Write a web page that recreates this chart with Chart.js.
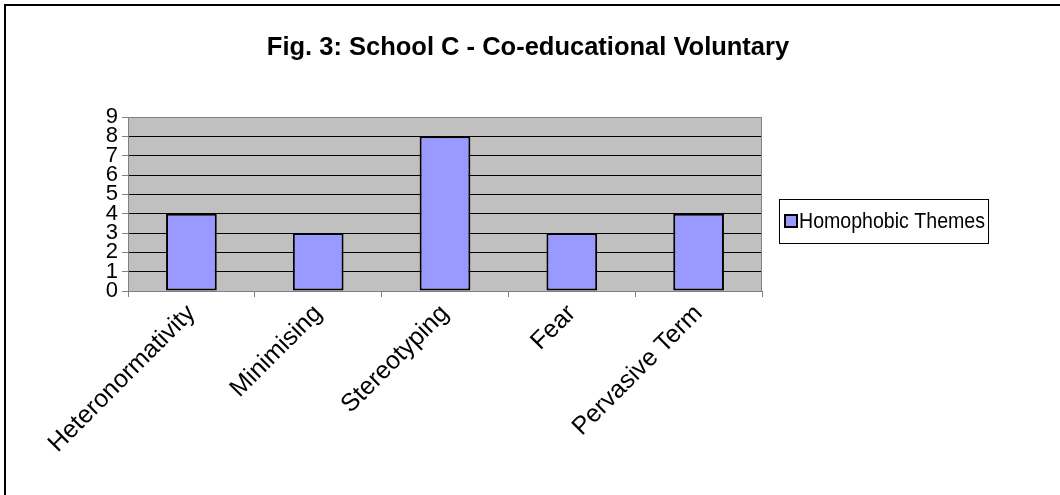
<!DOCTYPE html>
<html>
<head>
<meta charset="utf-8">
<script src="https://cdn.jsdelivr.net/npm/chart.js@4/dist/chart.umd.min.js"></script>
<style>
  html, body { margin: 0; padding: 0; background: #fff; }
  #wrap { width: 1060px; height: 495px; }
</style>
</head>
<body>
<div id="wrap"><canvas id="myChart" width="1060" height="495"></canvas></div>
<script>
const chartTitle = "Fig. 3: School C - Co-educational Voluntary";
const categories = ["Heteronormativity", "Minimising", "Stereotyping", "Fear", "Pervasive Term"];
const seriesName = "Homophobic Themes";
const themeCounts = [4, 3, 8, 3, 4];
const yTicks = [0, 1, 2, 3, 4, 5, 6, 7, 8, 9];

const FONT = "'Liberation Sans', Arial, sans-serif";
const barFill = "#9999FF";

// frame, plot background, title and the boxed legend
const decor = {
  id: "decor",
  beforeDraw(chart) {
    const { ctx, chartArea: a } = chart;
    ctx.save();
    ctx.fillStyle = "#fff";
    ctx.fillRect(0, 0, chart.width, chart.height);
    ctx.fillStyle = "#C0C0C0";
    ctx.fillRect(a.left, a.top, a.right - a.left, a.bottom - a.top);
    ctx.restore();
  },
  afterDraw(chart) {
    const { ctx, chartArea: a } = chart;
    ctx.save();
    // plot border
    ctx.strokeStyle = "#808080";
    ctx.lineWidth = 1;
    ctx.strokeRect(a.left + 0.5, a.top + 0.5, a.right - a.left - 1, a.bottom - a.top);

    // outer frame (only top and left edge visible)
    ctx.strokeStyle = "#000";
    ctx.lineWidth = 2;
    ctx.strokeRect(5, 5, 1200, 700);

    // title
    ctx.fillStyle = "#000";
    ctx.font = "bold 25.5px " + FONT;
    ctx.textAlign = "center";
    ctx.textBaseline = "middle";
    ctx.fillText(chartTitle, 528, 48);

    // legend
    const lx = 779, ly = 199, lw = 209, lh = 44;
    ctx.fillStyle = "#fff";
    ctx.fillRect(lx, ly, lw, lh);
    ctx.strokeStyle = "#000";
    ctx.lineWidth = 1;
    ctx.strokeRect(lx + 0.5, ly + 0.5, lw, lh);
    ctx.fillStyle = barFill;
    ctx.fillRect(785, 215, 12, 12);
    ctx.lineWidth = 2;
    ctx.strokeRect(785, 215, 12, 12);

    // legend text, squeezed a little to fit like the original
    const label = chart.data.datasets[0].label;
    ctx.fillStyle = "#000";
    ctx.font = "22px " + FONT;
    ctx.textAlign = "left";
    const w = ctx.measureText(label).width;
    const sx = Math.min(1, 186 / w);
    ctx.translate(799, ly + lh / 2 + 1);
    ctx.scale(sx, 1);
    ctx.fillText(label, 0, 0);
    ctx.restore();
  }
};

const ctx = document.getElementById("myChart").getContext("2d");
const myChart = new Chart(ctx, {
  type: "bar",
  data: {
    labels: categories,
    datasets: [
      {
        label: seriesName,
        data: themeCounts,
        backgroundColor: barFill,
        borderColor: "#000",
        borderWidth: 2,
        borderSkipped: false,
        barPercentage: 0.4,
        categoryPercentage: 1,
      },
    ],
  },
  options: {
    responsive: false,
    animation: false,
    layout: {
      padding: { top: 117, right: 298, left: 70, bottom: 0 },
    },
    scales: {
      x: {
        afterFit(scale) {
          scale.height = 204;
        },
        ticks: {
          color: "#000",
          autoSkip: false,
          minRotation: 45,
          maxRotation: 45,
          padding: 2,
          font: { family: FONT, size: 25 },
        },
        grid: {
          drawOnChartArea: false,
          tickLength: 6,
          tickColor: "#808080",
          offset: true,
        },
        border: { color: "#808080" },
      },
      y: {
        min: 0,
        max: 9,
        afterFit(scale) {
          scale.width = 58;
        },
        afterBuildTicks(scale) {
          scale.ticks = yTicks.map((v) => ({ value: v }));
        },
        ticks: {
          color: "#000",
          autoSkip: false,
          padding: 4,
          font: { family: FONT, size: 22, lineHeight: 1 },
        },
        grid: {
          color: "#000",
          tickColor: "#808080",
          tickLength: 6,
        },
        border: { color: "#808080" },
      },
    },
    plugins: {
      legend: { display: false },
      tooltip: { enabled: false },
      title: { display: false },
    },
  },
  plugins: [decor],
});
</script>
</body>
</html>
